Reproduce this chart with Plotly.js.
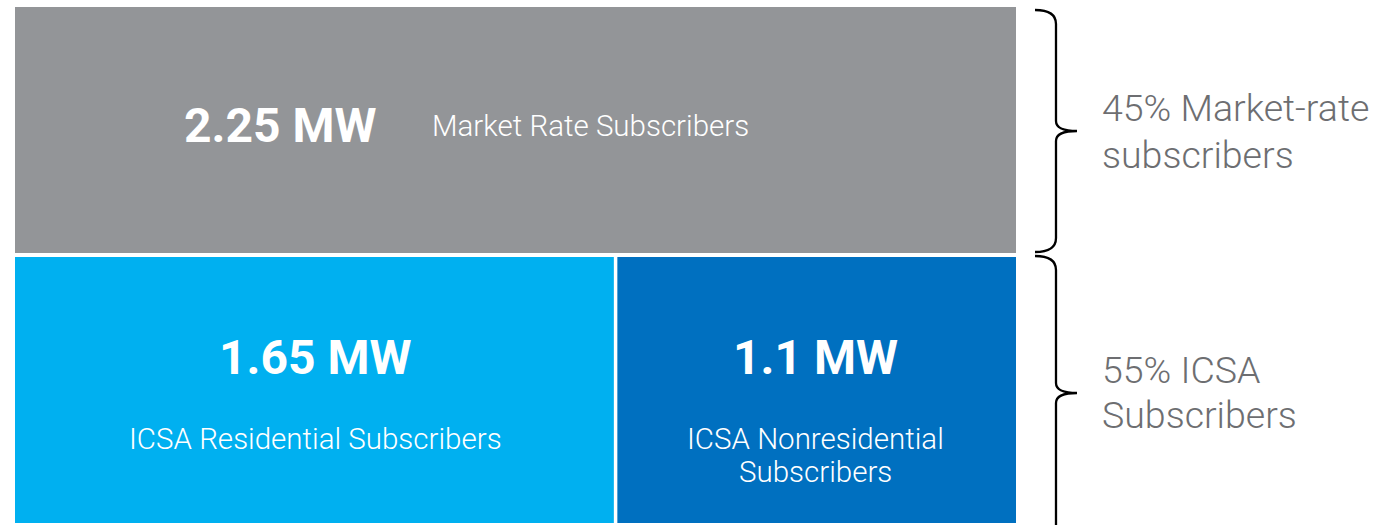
<!DOCTYPE html>
<html>
<head>
<meta charset="utf-8">
<script src="https://cdn.plot.ly/plotly-3.0.1.min.js"></script>
<style>html,body{margin:0;padding:0;background:#fff;}#chart{width:1385px;height:525px;}</style>
</head>
<body>
<div id="chart"></div>
<script>
// ---- data ----
const rowTop = ["Market Rate Subscribers"];
const rowTopMW = [2.25];
const rowBottom = ["ICSA Residential Subscribers", "ICSA Nonresidential<br>Subscribers"];
const rowBottomMW = [1.65, 1.1];
const groupLabels = ["45% Market-rate<br>subscribers", "55% ICSA<br>Subscribers"];
const colors = ["#939598", "#00B0F0", "#0070C0"];

// ---- geometry (pixels) ----
const W = 1385, H = 525;
const mL = 15, mR = 0, mT = 7, mB = 2;
const plotW = W - mL - mR, plotH = H - mT - mB;
const domEnd = (1016 - mL) / plotW;
const px = x => (x - mL) / plotW;          // pixel x -> paper
const py = y => (H - mB - y) / plotH;      // pixel y -> paper

// y axis in pixel-like units (0 at bottom)
const yBot = {c: 133.15, w: 266.3};
const yTop = {c: 392.85, w: 246.3};

const traces = [
  {type: 'bar', orientation: 'h', y: [yTop.c], x: rowTopMW, width: [yTop.w],
   marker: {color: colors[0]}, name: rowTop[0], hoverinfo: 'skip'},
  {type: 'bar', orientation: 'h', y: [yBot.c], x: [rowBottomMW[0]], width: [yBot.w],
   marker: {color: colors[1]}, name: rowBottom[0], hoverinfo: 'skip'},
  {type: 'bar', orientation: 'h', y: [yBot.c], x: [rowBottomMW[1]], width: [yBot.w],
   marker: {color: colors[2]}, name: rowBottom[1], hoverinfo: 'skip'}
];

const botTotal = rowBottomMW.reduce((a, b) => a + b, 0);
const split = rowBottomMW[0] / botTotal * 100;
const mid1 = split / 2, mid2 = split + (100 - split) / 2;

const fmt = v => v + ' MW';
const bold = {family: 'Roboto, Arial, sans-serif', size: 48, color: '#ffffff', weight: 700};
const light = {family: 'Roboto, Arial, sans-serif', size: 29.5, color: '#ffffff', weight: 300};
const side = {family: 'Roboto, Arial, sans-serif', size: 37.5, color: '#6d6e71', weight: 300};

const annotations = [
  {xref: 'paper', yref: 'paper', x: px(280), y: py(126), text: fmt(rowTopMW[0]), showarrow: false,
   xanchor: 'center', yanchor: 'middle', font: bold},
  {xref: 'paper', yref: 'paper', x: px(430), y: py(126), text: rowTop[0], showarrow: false,
   xanchor: 'left', yanchor: 'middle', font: light},
  {xref: 'x', yref: 'paper', x: mid1, y: py(357), text: fmt(rowBottomMW[0]), showarrow: false,
   xanchor: 'center', yanchor: 'middle', font: bold},
  {xref: 'x', yref: 'paper', x: mid2, y: py(357), text: fmt(rowBottomMW[1]), showarrow: false,
   xanchor: 'center', yanchor: 'middle', font: bold}
];

// multi-line labels placed line by line for tighter line spacing
function addLines(text, xref, x, yFirst, spacing, anchor, font) {
  text.split('<br>').forEach((t, i) => {
    annotations.push({xref: xref, yref: 'paper', x: x, y: py(yFirst + i * spacing), text: t,
      showarrow: false, xanchor: anchor, yanchor: 'middle', align: anchor, font: font});
  });
}
addLines(rowBottom[0], 'x', mid1, 439, 33, 'center', light);
addLines(rowBottom[1], 'x', mid2, 439, 33, 'center', light);
addLines(groupLabels[0], 'paper', px(1100), 108, 47, 'left', side);
addLines(groupLabels[1], 'paper', px(1100), 370, 45, 'left', side);

function brace(x0, xv, xt, y0, yc, y1) {
  const P = (x, y) => px(x).toFixed(5) + ',' + py(y).toFixed(5);
  return 'M' + P(x0, y0) +
    ' Q' + P(xv, y0) + ' ' + P(xv, y0 + 14) +
    ' L' + P(xv, yc - 10) +
    ' Q' + P(xv, yc) + ' ' + P(xt, yc) +
    ' Q' + P(xv, yc) + ' ' + P(xv, yc + 10) +
    ' L' + P(xv, y1 - 14) +
    ' Q' + P(xv, y1) + ' ' + P(x0, y1);
}

const shapes = [
  {type: 'line', xref: 'x', yref: 'y', x0: split, x1: split, y0: 0, y1: yBot.w,
   line: {color: '#ffffff', width: 3.5}},
  {type: 'path', xref: 'paper', yref: 'paper', path: brace(1035, 1056, 1077, 10, 131, 252),
   line: {color: '#000000', width: 2.3}},
  {type: 'path', xref: 'paper', yref: 'paper', path: brace(1035, 1056, 1077, 256, 393, 560),
   line: {color: '#000000', width: 2.3}}
];

const layout = {
  width: W, height: H,
  margin: {l: mL, r: mR, t: mT, b: mB, pad: 0},
  paper_bgcolor: '#ffffff', plot_bgcolor: '#ffffff',
  barmode: 'stack', barnorm: 'percent',
  showlegend: false,
  xaxis: {domain: [0, domEnd], range: [0, 100], visible: false, fixedrange: true},
  yaxis: {range: [0, plotH], visible: false, fixedrange: true},
  annotations: annotations,
  shapes: shapes
};

Plotly.newPlot('chart', traces, layout, {displayModeBar: false, staticPlot: true});
</script>
</body>
</html>
